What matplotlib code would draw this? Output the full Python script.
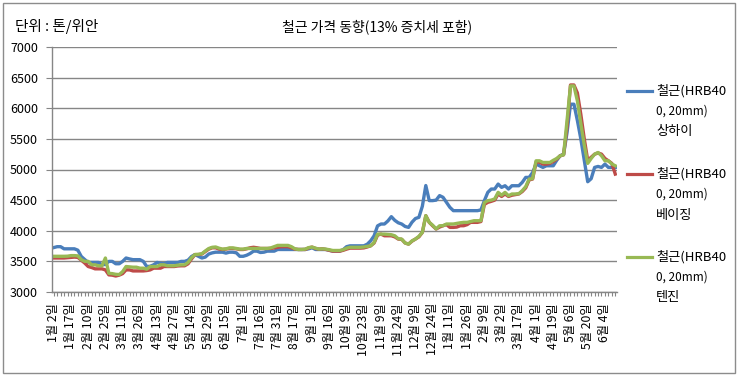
import matplotlib
matplotlib.use("Agg")
import matplotlib.pyplot as plt
from matplotlib.lines import Line2D
from matplotlib.patches import Rectangle

plt.rcParams['font.family'] = ['Noto Sans CJK KR', 'DejaVu Sans']

# date labels, one every 5th point
date_labels = ['1월 2일', '1월 17일', '2월 10일', '2월 25일', '3월 11일', '3월 26일',
               '4월 13일', '4월 27일', '5월 14일', '5월 29일', '6월 15일', '7월 1일',
               '7월 16일', '7월 31일', '8월 17일', '9월 1일', '9월 16일', '10월 9일',
               '10월 23일', '11월 9일', '11월 24일', '12월 9일', '12월 24일', '1월 11일',
               '1월 26일', '2월 9일', '3월 2일', '3월 17일', '4월 1일', '4월 19일',
               '5월 6일', '5월 20일', '6월 4일']
label_step = 5

series_names = ['철근(HRB40\n0, 20mm)\n상하이',
                '철근(HRB40\n0, 20mm)\n베이징',
                '철근(HRB40\n0, 20mm)\n텐진']

shanghai = [3725, 3740, 3740, 3705, 3705, 3705, 3705, 3683, 3580, 3530,
            3483, 3483, 3483, 3483, 3444, 3450, 3500, 3500, 3461, 3461,
            3500, 3555, 3540, 3528, 3528, 3528, 3500, 3416, 3420, 3444,
            3483, 3470, 3461, 3483, 3483, 3483, 3483, 3500, 3500, 3520,
            3580, 3611, 3583, 3555, 3570, 3620, 3639, 3650, 3650, 3650,
            3635, 3650, 3650, 3640, 3583, 3583, 3600, 3628, 3667, 3667,
            3645, 3650, 3667, 3667, 3667, 3694, 3694, 3694, 3694, 3694,
            3694, 3694, 3694, 3694, 3705, 3722, 3694, 3694, 3694, 3694,
            3680, 3667, 3667, 3667, 3690, 3740, 3754, 3754, 3754, 3754,
            3754, 3780, 3836, 3918, 4080, 4110, 4110, 4160, 4230, 4170,
            4130, 4110, 4070, 4055, 4140, 4200, 4219, 4400, 4738, 4492,
            4492, 4500, 4574, 4546, 4464, 4382, 4328, 4328, 4328, 4328,
            4328, 4328, 4328, 4328, 4340, 4491, 4627, 4681, 4681, 4762,
            4708, 4735, 4681, 4735, 4735, 4735, 4790, 4871, 4871, 4950,
            5088, 5061, 5034, 5061, 5061, 5061, 5150, 5224, 5251, 5604,
            6066, 6066, 5800, 5500, 5150, 4800, 4850, 5034, 5050, 5034,
            5088, 5034, 5034, 5034]

beijing = [3555, 3555, 3555, 3555, 3560, 3565, 3570, 3565, 3520, 3472,
           3416, 3400, 3378, 3378, 3378, 3361, 3280, 3275, 3261, 3275,
           3300, 3361, 3361, 3344, 3344, 3344, 3344, 3350, 3361, 3389,
           3389, 3389, 3416, 3416, 3416, 3416, 3425, 3428, 3428, 3461,
           3540, 3611, 3611, 3620, 3660, 3700, 3722, 3722, 3700, 3694,
           3700, 3711, 3711, 3705, 3694, 3694, 3705, 3722, 3730, 3722,
           3711, 3711, 3711, 3711, 3720, 3730, 3740, 3740, 3740, 3722,
           3700, 3694, 3694, 3694, 3720, 3733, 3711, 3700, 3705, 3694,
           3680, 3667, 3667, 3667, 3680, 3700, 3716, 3716, 3716, 3716,
           3720, 3735, 3754, 3800, 3930, 3945, 3918, 3918, 3918, 3900,
           3864, 3860, 3800, 3782, 3830, 3864, 3900, 3973, 4246, 4137,
           4080, 4028, 4060, 4082, 4100, 4055, 4055, 4060, 4082, 4082,
           4100, 4137, 4137, 4137, 4150, 4430, 4464, 4480, 4500, 4600,
           4560, 4600, 4560, 4580, 4590, 4600, 4640, 4700, 4830, 4844,
           5120, 5120, 5088, 5088, 5100, 5130, 5170, 5224, 5240, 5700,
           6380, 6380, 6250, 5900, 5500, 5150, 5200, 5250, 5270, 5251,
           5180, 5142, 5100, 4925]

tianjin = [3583, 3583, 3583, 3583, 3585, 3594, 3594, 3590, 3528, 3500,
           3500, 3444, 3444, 3428, 3428, 3555, 3305, 3300, 3289, 3285,
           3333, 3416, 3410, 3405, 3405, 3389, 3389, 3372, 3416, 3416,
           3416, 3444, 3444, 3428, 3428, 3428, 3438, 3444, 3444, 3483,
           3560, 3611, 3615, 3625, 3670, 3710, 3730, 3735, 3715, 3700,
           3705, 3720, 3720, 3711, 3700, 3700, 3711, 3711, 3711, 3711,
           3711, 3711, 3711, 3720, 3740, 3761, 3761, 3761, 3761, 3740,
           3705, 3694, 3694, 3700, 3725, 3733, 3715, 3700, 3705, 3700,
           3690, 3678, 3678, 3678, 3690, 3716, 3730, 3730, 3730, 3730,
           3735, 3745, 3754, 3810, 3945, 3945, 3945, 3940, 3935, 3918,
           3870, 3864, 3800, 3782, 3835, 3864, 3910, 3973, 4246, 4137,
           4090, 4030, 4082, 4082, 4110, 4110, 4110, 4120, 4130, 4137,
           4137, 4150, 4164, 4164, 4164, 4460, 4491, 4500, 4520, 4627,
           4580, 4627, 4572, 4600, 4600, 4605, 4654, 4720, 4844, 4850,
           5142, 5142, 5115, 5115, 5115, 5150, 5180, 5224, 5240, 5794,
           6364, 6364, 6120, 5750, 5400, 5100, 5180, 5250, 5278, 5224,
           5142, 5142, 5090, 5061]

colors = ['#4A7EBB', '#BE4B48', '#98B954']
gray = '#868686'

fig = plt.figure(figsize=(7.38, 3.76), dpi=100)
ax = fig.add_axes([52 / 738, 1 - 292 / 376, 565 / 738, 245 / 376])

x = list(range(len(shanghai)))
for vals, c in zip([shanghai, beijing, tianjin], colors):
    ax.plot(x, vals, color=c, lw=2.4, solid_joinstyle='round')

ax.set_xlim(-0.5, len(x) - 0.5)
ax.set_ylim(3000, 7000)
ax.set_yticks(range(3000, 7001, 500))
ax.yaxis.grid(True, color=gray, lw=1)
ax.set_axisbelow(True)
for s in ['top', 'right']:
    ax.spines[s].set_visible(False)
for s in ['left', 'bottom']:
    ax.spines[s].set_color(gray)
    ax.spines[s].set_linewidth(1)

ax.set_xticks(x)
ticklabels = [''] * len(x)
for k, lab in enumerate(date_labels):
    ticklabels[k * label_step] = lab
ax.set_xticklabels(ticklabels, rotation=90, fontsize=8.8)
ax.tick_params(axis='x', length=3, color=gray, pad=5)
ax.tick_params(axis='y', length=4, color=gray, labelsize=9, pad=6)

fig.text(15 / 738, 1 - 27 / 376, '단위 : 톤/위안', fontsize=10.5, va='center')
fig.text(377 / 738, 1 - 27 / 376, '철근 가격 동향(13% 증치세 포함)', fontsize=10,
         ha='center', va='center')

# legend on the right
for k, (name, c) in enumerate(zip(series_names, colors)):
    y0 = 1 - (91 + k * 83) / 376
    fig.add_artist(Line2D([627 / 738, 652 / 738], [y0, y0], color=c, lw=2.3,
                          transform=fig.transFigure))
    for j, line in enumerate(name.split('\n')):
        fig.text(656 / 738, y0 - j * 20.5 / 376, line, fontsize=9.5 if j != 1 else 8.5,
                 va='center')

fig.add_artist(Rectangle((3 / 738, 3 / 376), 732 / 738, 370 / 376, fill=False,
                         ec='#8c8c8c', lw=1, transform=fig.transFigure))

fig.savefig('out.png', dpi=100)
